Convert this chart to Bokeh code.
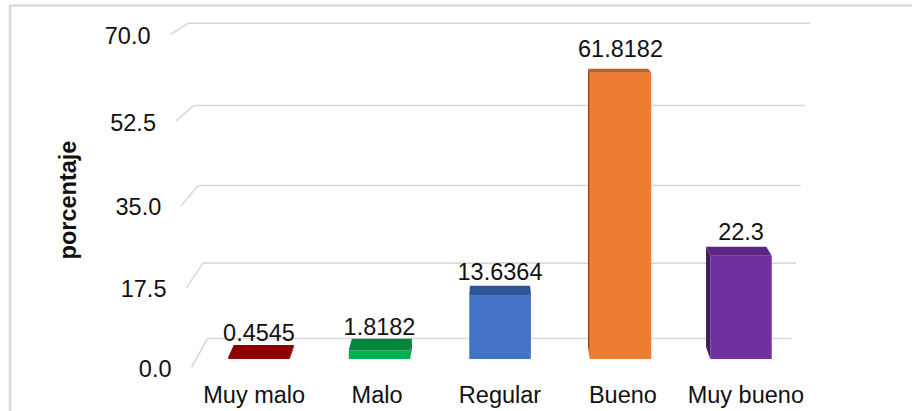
import math

from bokeh.core.properties import value
from bokeh.embed import file_html
from bokeh.models import Range1d
from bokeh.plotting import figure
from bokeh.resources import INLINE

# ---- data -------------------------------------------------------------
CATEGORIES = ["Muy malo", "Malo", "Regular", "Bueno", "Muy bueno"]
VALUES = [0.4545, 1.8182, 13.6364, 61.8182, 22.3]
VALUE_LABELS = ["0.4545", "1.8182", "13.6364", "61.8182", "22.3"]
TICKS = [0.0, 17.5, 35.0, 52.5, 70.0]
TICK_LABELS = ["0.0", "17.5", "35.0", "52.5", "70.0"]
AXIS_TITLE = "porcentaje"

# face colours of each 3-D column: front, top, side
FRONT_COLORS = ["#990000", "#00B050", "#4472C4", "#ED7D31", "#7030A0"]
TOP_COLORS = ["#8B0000", "#00853C", "#2F5597", "#B9612A", "#5A2682"]
SIDE_COLORS = ["#6E0000", "#006B30", "#24447A", "#8A461C", "#3F1A5E"]

# ---- layout -----------------------------------------------------------
W, H = 912, 411
CAT0_PX = 258.5      # screen x of the first category on the column plane
CAT_STEP_PX = 120.5  # screen distance between categories
BASE_PX = 358.5      # screen y of 0 % on the column plane
UNIT_PX = 4.63       # screen pixels per percentage point on that plane
BAR_W = 0.51

FONT = value("Liberation Sans")
FONT_SIZE = "23.5px"
TEXT_COLOR = "#111111"
GRID_COLOR = "#D9D9D9"


def sx(px):
    """screen x -> data x"""
    return (px - CAT0_PX) / CAT_STEP_PX


def sy(py):
    """screen y -> data y"""
    return (BASE_PX - py) / UNIT_PX


def to_px(x):
    return CAT0_PX + x * CAT_STEP_PX


def to_py(v):
    return BASE_PX - v * UNIT_PX


# perspective of the walls: value -> screen y (projective map)
BACK_WALL = (338.0, -4.523, -0.000819)
FLOOR_EDGE = (367.0, -4.783, -0.000752)


def wall_y(v, a, b, c):
    return (a + b * v) / (1.0 + c * v)


# vanishing point used for the depth of the columns
VP_PX = (500.0, -70.0)
DEPTH_X, DEPTH_Y = 0.02, 0.028
VP_CAT = sx(VP_PX[0])


def recede(x, v):
    X, Y = to_px(x), to_py(v)
    return sx(X + DEPTH_X * (VP_PX[0] - X)), sy(Y + DEPTH_Y * (VP_PX[1] - Y))


p = figure(
    width=W,
    height=H,
    x_range=Range1d(sx(0), sx(W)),
    y_range=Range1d(sy(H), sy(0)),
    output_backend="svg",
    toolbar_location=None,
    min_border=0,
)
p.xaxis.visible = False
p.yaxis.visible = False
p.grid.visible = False
p.outline_line_color = None
p.background_fill_color = "white"
p.border_fill_color = "white"

# ---- chart border -----------------------------------------------------
p.line(x=[sx(9.5), sx(9.5), sx(W + 10)], y=[sy(H + 10), sy(5), sy(5)],
       line_color=GRID_COLOR, line_width=2.5)

# ---- gridlines on floor edge + back wall ------------------------------
grid_xs, grid_ys, lab_x, lab_y = [], [], [], []
for t in TICKS:
    yb = wall_y(t, *BACK_WALL)
    yf = wall_y(t, *FLOOR_EDGE)
    xf = 191 - (367 - yf) * 21 / 333
    xb = 207 - (338 - yb) * 19 / 315.3
    xr = 791 + (338 - yb) * 19 / 315.3
    grid_xs.append([sx(xf), sx(xb), sx(xr)])
    grid_ys.append([sy(yf), sy(yb), sy(yb)])
    lab_x.append(sx(xf))
    lab_y.append(sy(yf))

p.multi_line(xs=grid_xs, ys=grid_ys, line_color=GRID_COLOR, line_width=1.6)

p.text(x=lab_x, y=lab_y, text=TICK_LABELS, x_offset=-20, y_offset=1,
       text_align="right", text_baseline="middle",
       text_font=FONT, text_font_size=FONT_SIZE, text_color=TEXT_COLOR)

# ---- 3-D columns --------------------------------------------------------
idx = list(range(len(CATEGORIES)))
top_xs, top_ys, side_xs, side_ys = [], [], [], []
for i, v in zip(idx, VALUES):
    xl, xr = i - BAR_W / 2, i + BAR_W / 2
    bl, br = recede(xl, v), recede(xr, v)
    top_xs.append([xl, xr, br[0], bl[0]])
    top_ys.append([v, v, br[1], bl[1]])
    edge = xl if i > VP_CAT else xr
    et, eb = recede(edge, v), recede(edge, 0.0)
    side_xs.append([edge, edge, et[0], eb[0]])
    side_ys.append([0.0, v, et[1], eb[1]])

p.patches(xs=side_xs, ys=side_ys, fill_color=SIDE_COLORS, line_color=None)
p.vbar(x=idx, top=VALUES, bottom=0.0, width=BAR_W,
       fill_color=FRONT_COLORS, line_color=None)
p.patches(xs=top_xs, ys=top_ys, fill_color=TOP_COLORS, line_color=None)

# value labels above the columns
p.text(x=idx, y=VALUES, text=VALUE_LABELS, y_offset=-24.5,
       text_align="center", text_baseline="middle",
       text_font=FONT, text_font_size=FONT_SIZE, text_color=TEXT_COLOR)

# category labels along the front edge of the floor
cat_x = [VP_CAT + (i - VP_CAT) * 1.02 for i in idx]
p.text(x=cat_x, y=[sy(394)] * len(idx), text=CATEGORIES,
       text_align="center", text_baseline="middle",
       text_font=FONT, text_font_size=FONT_SIZE, text_color=TEXT_COLOR)

# axis title
p.text(x=[sx(67)], y=[sy(199.5)], text=[AXIS_TITLE], angle=math.pi / 2,
       text_align="center", text_baseline="middle",
       text_font=FONT, text_font_size=FONT_SIZE, text_font_style="bold",
       text_color=TEXT_COLOR)

open("out.html", "w").write(file_html(p, INLINE))
